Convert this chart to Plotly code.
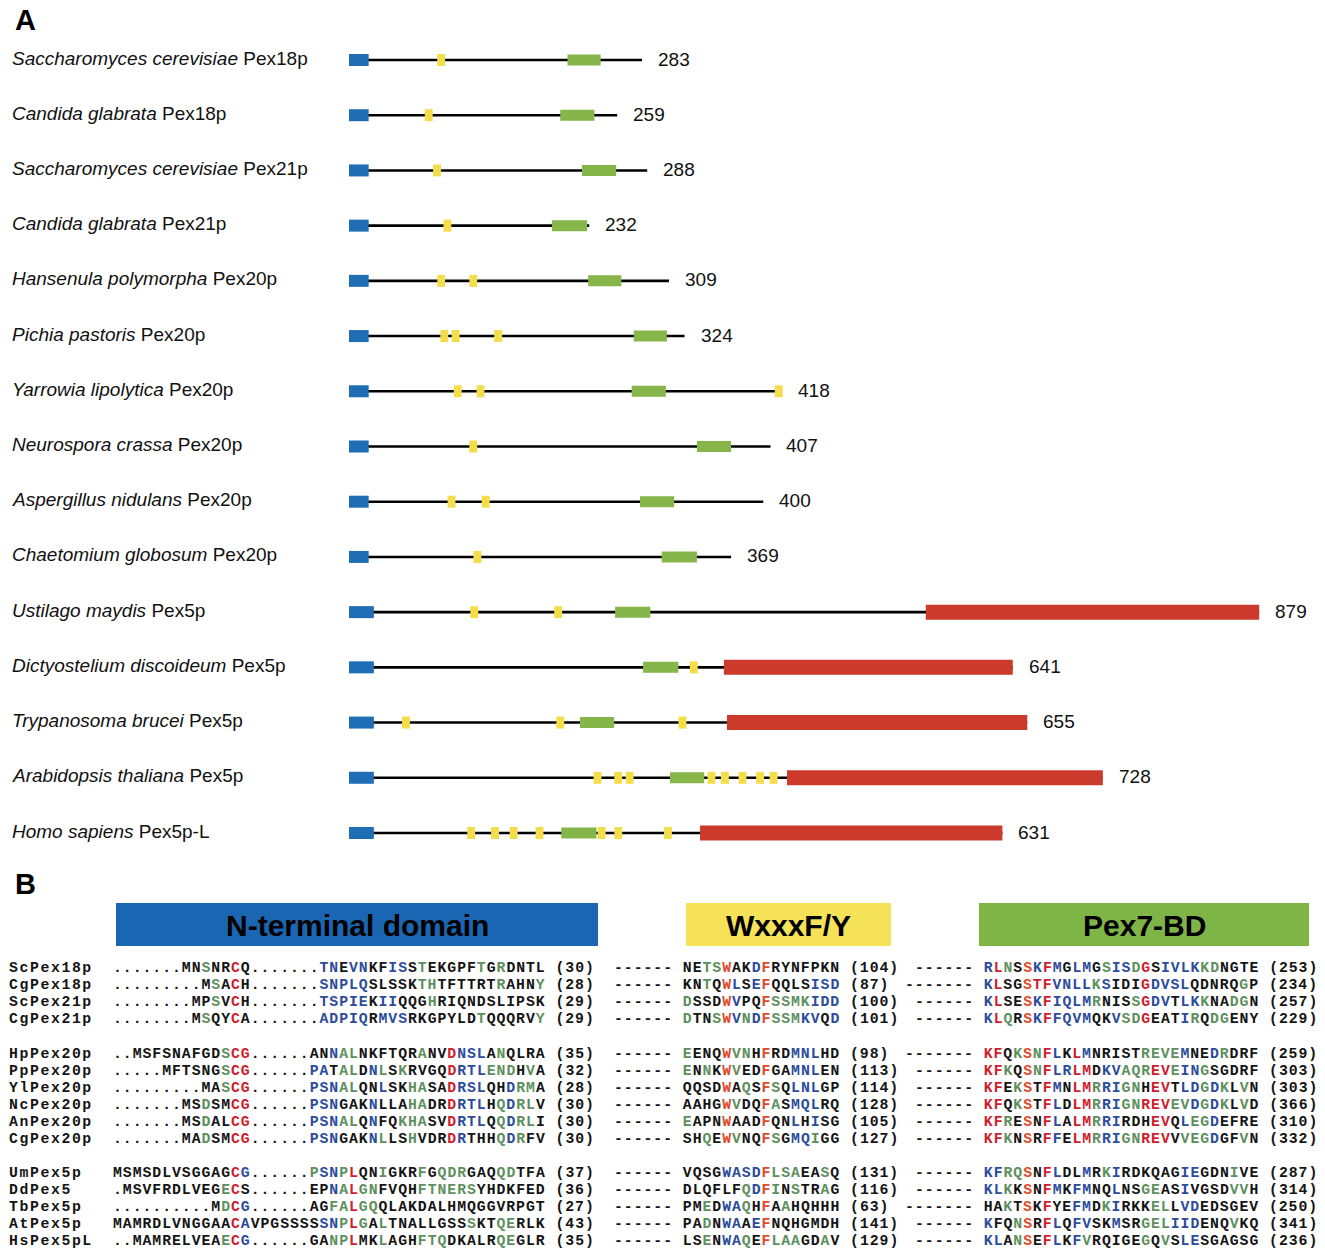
import plotly.graph_objects as go

W, H = 1325, 1251

# ---------------- Panel A: domain architecture ----------------
species = ["Saccharomyces cerevisiae", "Candida glabrata", "Saccharomyces cerevisiae",
           "Candida glabrata", "Hansenula polymorpha", "Pichia pastoris",
           "Yarrowia lipolytica", "Neurospora crassa", "Aspergillus nidulans",
           "Chaetomium globosum", "Ustilago maydis", "Dictyostelium discoideum",
           "Trypanosoma brucei", "Arabidopsis thaliana", "Homo sapiens"]
protein = ["Pex18p", "Pex18p", "Pex21p", "Pex21p", "Pex20p", "Pex20p", "Pex20p",
           "Pex20p", "Pex20p", "Pex20p", "Pex5p", "Pex5p", "Pex5p", "Pex5p", "Pex5p-L"]
lengths = [283, 259, 288, 232, 309, 324, 418, 407, 400, 369, 879, 641, 655, 728, 631]
nterm_end = [19, 19, 19, 19, 19, 19, 19, 19, 19, 19, 24, 24, 24, 24, 24]
wxxxf_sites = [[89], [77], [85], [95], [89, 120], [92, 103, 144], [105, 127, 415],
               [120], [99, 132], [124], [121, 202], [333], [55, 204, 322],
               [240, 260, 271, 350, 363, 380, 397, 410],
               [118, 141, 159, 184, 244, 260, 308]]
pex7_start = [211, 204, 225, 196, 231, 275, 273, 336, 281, 302, 257, 284, 223, 310, 205]
pex7_end = [243, 237, 258, 230, 263, 307, 306, 369, 314, 336, 291, 318, 256, 343, 239]
tpr_start = [None] * 10 + [557, 362, 365, 423, 339]

# ---------------- Panel B: alignment ----------------
b_names = ["ScPex18p", "CgPex18p", "ScPex21p", "CgPex21p",
           "HpPex20p", "PpPex20p", "YlPex20p", "NcPex20p", "AnPex20p", "CgPex20p",
           "UmPex5p", "DdPex5", "TbPex5p", "AtPex5p", "HsPex5pL"]
nterm_seq = [
    ".......MNSNRCQ.......TNEVNKFISSTEKGPFTGRDNTL",
    ".........MSACH.......SNPLQSLSSKTHTFTTRTRAHNY",
    "........MPSVCH.......TSPIEKIIQQGHRIQNDSLIPSK",
    "........MSQYCA.......ADPIQRMVSRKGPYLDTQQQRVY",
    "..MSFSNAFGDSCG......ANNALNKFTQRANVDNSLANQLRA",
    ".....MFTSNGSCG......PATALDNLSKRVGQDRTLENDHVA",
    ".........MASCG......PSNALQNLSKHASADRSLQHDRMA",
    ".......MSDSMCG......PSNGAKNLLAHADRDRTLHQDRLV",
    ".......MSDALCG......PSNALQNFQKHASVDRTLQQDRLI",
    ".......MADSMCG......PSNGAKNLLSHVDRDRTHHQDRFV",
    "MSMSDLVSGGAGCG......PSNPLQNIGKRFGQDRGAQQDTFA",
    ".MSVFRDLVEGECS......EPNALGNFVQHFTNERSYHDKFED",
    "..........MDCG......AGFALGQQLAKDALHMQGGVRPGT",
    "MAMRDLVNGGAACAVPGSSSSSNPLGALTNALLGSSSKTQERLK",
    "..MAMRELVEAECG......GANPLMKLAGHFTQDKALRQEGLR",
]
# residue colour codes (dots are skipped): k black, b blue, g green, r red, o orange-red
nterm_col = [
    "kkgkkrk" + "bbkbbkkbbkgkkkkkgkgkkkk",
    "kgkrk" + "bbbbbkkkkkggkkkkkkgkkkg",
    "kkgkrk" + "bbbbbkbbkkkgkkkkkkkkkkk",
    "kgkkrk" + "bbbbbkbbbkkkkkkkgkkkkkg",
    "kkkkkkkkkgrr" + "kkbggkkkkkkgkkrbbbkgkkkk",
    "kkkkkkgrr" + "bbkggkbgkgkkkkrbbbgggkgk",
    "kkgrr" + "bbbggkkbkkggkkrbbbkkbggk",
    "kkgkkrr" + "bbbkkkbkkkggkkrbbbkgbggk",
    "kkgkkrr" + "bbbggkbkkgggkkrbbbkgbggk",
    "kkgkkrr" + "bbbkkkbgkkgkkkrbkkkgbgkk",
    "kkkkkkkkkkkkrb" + "gbbgrkkgkkkgkgggkkkggkkk",
    "kkkkkkkkkkgrk" + "kkbgrggkkkkggggggkkkkkkk",
    "kgrb" + "kkggrggkkkkkkkkkkkkkkkkk",
    "kkkkkkkkkkkkrbkkkkkkkb" + "bgrgkgkkkkkkkkgkkggkkk",
    "kkkkkkkkkgrb" + "kkggrkkgkkkgggkkkkkggkkk",
]
nterm_num = [30, 28, 29, 29, 35, 32, 28, 30, 30, 30, 37, 36, 27, 43, 35]

wxxxf_seq = ["NETSWAKDFRYNFPKN", "KNTQWLSEFQQLSISD", "DSSDWVPQFSSMKIDD", "DTNSWVNDFSSMKVQD",
             "EENQWVNHFRDMNLHD", "ENNKWVEDFGAMNLEN", "QQSDWAQSFSQLNLGP", "AAHGWVDQFASMQLRQ",
             "EAPNWAADFQNLHISG", "SHQEWVNQFSGMQIGG",
             "VQSGWASDFLSAEASQ", "DLQFLFQDFINSTRAG", "PMEDWAQHFAAHQHHH", "PADNWAAEFNQHGMDH",
             "LSENWAQEFLAAGDAV"]
wxxxf_col = ["kkggokkbokkkkkkk", "kkgkobkbokkkkbbb", "gkkkobkkoggggbbb", "gkkgobgbogggbbkb",
             "gkkkoggkokkbbbkk", "gkgkogkkokkbbbkk", "kkkkokgkogkbbbkk", "kkkkogkkogkbbbkk",
             "gkkkokkkokkbkbkk", "kkgkogkkogkbbgkk",
             "kkkkbbbbogggkkgk", "kkkkkkgbogkgkkgk", "kkgkbbgkokgkkkkk", "kkgkbbkbokkkkkkk",
             "kkgkbbgkogggkkgk"]
wxxxf_num = [104, 87, 100, 101, 98, 113, 114, 128, 105, 127, 131, 116, 63, 141, 129]

pex7_seq = ["RLNSSKFMGLMGSISDGSIVLKKDNGTE", "KLSGSTFVNLLKSIDIGDVSLQDNRQGP",
            "KLSESKFIQLMRNISSGDVTLKKNADGN", "KLQRSKFFQVMQKVSDGEATIRQDGENY",
            "KFQKSNFLKLMNRISTREVEMNEDRDRF", "KFKQSNFLRLMDKVAQREVEINGSGDRF",
            "KFEKSTFMNLMRRIGNHEVTLDGDKLVN", "KFQKSTFLDLMRRIGNREVEVDGDKLVD",
            "KFRESNFLALMRRIRDHEVQLEGDEFRE", "KFKNSRFFELMRRIGNREVVVEGDGFVN",
            "KFRQSNFLDLMRKIRDKQAGIEGDNIVE", "KLKKSNFMKFMNQLNSGEASIVGSDVVH",
            "HAKTSKFYEFMDKIRKKELLVDEDSGEV", "KFQNSRFLQFVSKMSRGELIIDENQVKQ",
            "KLANSEFLKFVRQIGEGQVSLESGAGSG"]
pex7_col = ["brgkobrbkbbkgbbgrkbbbbggkkkk", "brkkorrbbbbgbkkkrbbbbkkkkkgk",
            "brkkobrbbbbgkkkgrbbkbbgkkggk", "brgkobrbbbbkkbggrkkkbgkggkkk",
            "rrkgogrbkrbkkkkkggggbkkbgkkk", "rrgkogrbbrrkbbgggrrgbbgkkkkk",
            "rrkgokrbkrrgbbggkrrkbbgbgkgk", "rrkgokrbkrrgbbggrrrggbgbgkgk",
            "rrgkokrbkrrgbbkkkrrkbggbkkkk", "rrgkokrbkrrgbbggrrrkgggbkkgk",
            "bbggokrbkkbkgbkkkkkkbbkkkgkk", "bbgkokrbkbbkkbkkggkkbkkkkggk",
            "kkgkokrkkbbkgbkkkggkbbkkkkkk", "bkkgokrbkbbkkbkkgggbbbkkkgkk",
            "bbkgokrbkbgkkkkkgkgkbbkkkkkk"]
pex7_num = [253, 234, 257, 229, 259, 303, 303, 366, 310, 332, 287, 314, 250, 341, 236]

headers = ["N-terminal domain", "WxxxF/Y", "Pex7-BD"]

# ---------------- styling ----------------
C_NT, C_W, C_P7, C_TPR = "#1f6db5", "#f4dd4b", "#86b54a", "#cc3a2c"
HDR_COL = ["#1a66b2", "#f6e258", "#7fb546"]
RES_COL = {"k": "#141414", "b": "#2c4c9c", "g": "#5e8f5e", "r": "#d01c2c", "o": "#e04a2a"}
NBSP = "\u00a0"

PX_PER_AA = 1.0355
X0_PX = 349.0
ROW0_PX, ROW_STEP = 60.0, 55.214

fig = go.Figure()
fig.update_layout(
    width=W, height=H, margin=dict(l=0, r=0, t=0, b=0),
    paper_bgcolor="white", plot_bgcolor="white", showlegend=False,
    xaxis=dict(range=[-X0_PX / PX_PER_AA, (W - X0_PX) / PX_PER_AA], visible=False,
               domain=[0, 1], fixedrange=True),
    yaxis=dict(range=[(H - ROW0_PX) / ROW_STEP, -ROW0_PX / ROW_STEP], visible=False,
               domain=[0, 1], fixedrange=True),
)


def half(px):
    return px / 2.0 / ROW_STEP


shapes, annos = [], []
SANS = "Liberation Sans, Arial, sans-serif"
MONO = "Liberation Mono, Courier New, monospace"

# backbone lines
for i, L in enumerate(lengths):
    shapes.append(dict(type="line", xref="x", yref="y", x0=0, x1=L, y0=i, y1=i,
                       line=dict(color="black", width=2.6)))
# domains
for i, L in enumerate(lengths):
    shapes.append(dict(type="rect", xref="x", yref="y", x0=0, x1=nterm_end[i],
                       y0=i - half(12), y1=i + half(12), fillcolor=C_NT, line_width=0))
    shapes.append(dict(type="rect", xref="x", yref="y", x0=pex7_start[i], x1=pex7_end[i],
                       y0=i - half(11), y1=i + half(11), fillcolor=C_P7, line_width=0))
    for s in wxxxf_sites[i]:
        shapes.append(dict(type="rect", xref="x", yref="y", x0=s - 3.8, x1=s + 3.8,
                           y0=i - half(12), y1=i + half(12), fillcolor=C_W, line_width=0))
    if tpr_start[i] is not None:
        shapes.append(dict(type="rect", xref="x", yref="y", x0=tpr_start[i], x1=L,
                           y0=i - half(15), y1=i + half(15), fillcolor=C_TPR, line_width=0))
    annos.append(dict(xref="paper", yref="y", x=10 / W, y=i, yshift=2,
                      xanchor="left", yanchor="middle", showarrow=False,
                      text=f"<i>{species[i]}</i> {protein[i]}",
                      font=dict(family=SANS, size=19, color="#111")))
    annos.append(dict(xref="x", yref="y", x=L, y=i, xshift=14, yshift=1,
                      xanchor="left", yanchor="middle", showarrow=False,
                      text=str(L), font=dict(family=SANS, size=19, color="#111")))

# panel letters
for lab, py in (("A", 20), ("B", 884)):
    annos.append(dict(xref="paper", yref="paper", x=13 / W, y=1 - py / H,
                      xanchor="left", yanchor="middle", showarrow=False,
                      text=f"<b>{lab}</b>", font=dict(family=SANS, size=29, color="black")))

# headers of panel B
hdr_box = [(116, 598), (686, 891), (979, 1309)]
for (x0, x1), txt, col in zip(hdr_box, headers, HDR_COL):
    shapes.append(dict(type="rect", xref="paper", yref="paper", x0=x0 / W, x1=x1 / W,
                       y0=1 - 946 / H, y1=1 - 903 / H, fillcolor=col, line_width=0))
    annos.append(dict(xref="paper", yref="paper", x=(x0 + x1) / 2 / W, y=1 - 925 / H,
                      xanchor="center", yanchor="middle", showarrow=False,
                      text=f"<b>{txt}</b>", font=dict(family=SANS, size=30, color="black")))

# alignment text: compact glyphs widened by letter spacing so rows 17 px apart stay clear
FS, LS = 14.8, 0.95
NAME_FS, NAME_LS = 14.8, 1.6


def span(txt, col, ls):
    return f"<span style='color:{col};letter-spacing:{ls}px'>{txt}</span>"


def colored(seq, codes, ls=LS):
    """Build HTML with one span per run of equally coloured residues."""
    cols, j = [], 0
    for ch in seq:
        if ch.isalpha():
            cols.append(codes[j] if j < len(codes) else "k")
            j += 1
        else:
            cols.append("k")
    out, run, cur = [], "", None
    for ch, c in zip(seq, cols):
        if c != cur and run:
            out.append(span(run, RES_COL[cur], ls))
            run = ""
        cur = c
        run += ch
    if run:
        out.append(span(run, RES_COL[cur], ls))
    return "".join(out)


def plain(txt, ls=LS):
    return span(txt, RES_COL["k"], ls)


row_y = [968, 985, 1002, 1019, 1054, 1071, 1088, 1105, 1122, 1139,
         1173, 1190, 1207, 1224, 1241]
for i, name in enumerate(b_names):
    y = 1 - row_y[i] / H
    base = dict(xref="paper", yref="paper", y=y, yanchor="middle", showarrow=False,
                borderpad=0)
    annos.append(dict(base, x=8 / W, xanchor="left",
                      text="<b>" + plain(name, NAME_LS) + "</b>",
                      font=dict(family=MONO, size=NAME_FS, color="#141414")))
    t1 = "<b>" + colored(nterm_seq[i], nterm_col[i]) + plain(f"{NBSP}({nterm_num[i]})") + "</b>"
    annos.append(dict(base, x=112 / W, xanchor="left", text=t1,
                      font=dict(family=MONO, size=FS, color="#141414")))
    t2 = ("<b>" + plain("------" + NBSP) + colored(wxxxf_seq[i], wxxxf_col[i])
          + plain(f"{NBSP}({wxxxf_num[i]})") + "</b>")
    annos.append(dict(base, x=613 / W, xanchor="left", text=t2,
                      font=dict(family=MONO, size=FS, color="#141414")))
    dashes = "-------" if wxxxf_num[i] < 100 else "------"
    t3 = ("<b>" + plain(dashes + NBSP) + colored(pex7_seq[i], pex7_col[i])
          + plain(f"{NBSP}({pex7_num[i]})") + "</b>")
    annos.append(dict(base, x=1319 / W, xanchor="right", text=t3,
                      font=dict(family=MONO, size=FS, color="#141414")))

fig.update_layout(shapes=shapes, annotations=annos)
fig.write_html("out.html")
